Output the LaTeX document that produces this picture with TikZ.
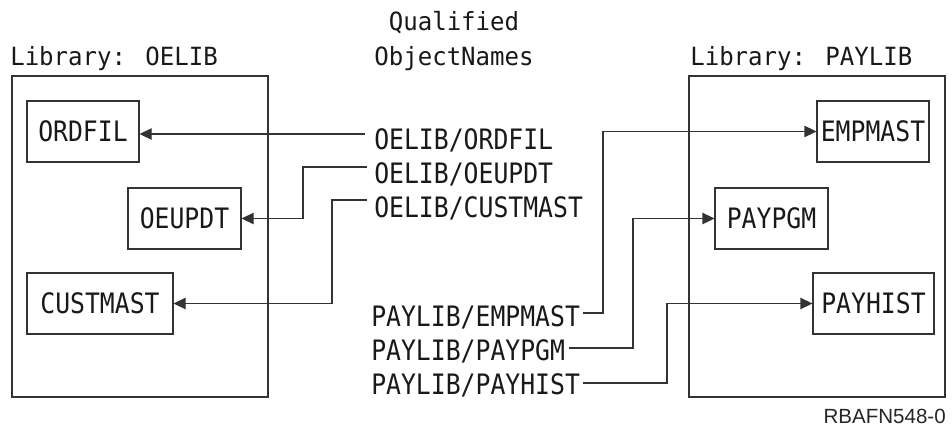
\documentclass[tikz,border=0pt]{standalone}
\usepackage{fontspec}
\usetikzlibrary{arrows.meta,calc}
\newfontfamily\bodyfont[FakeStretch=0.88]{DejaVu Sans Mono}
\newfontfamily\headfont[FakeStretch=0.96]{DejaVu Sans Mono}
\newfontfamily\reffont{Liberation Sans}
\begin{document}
\begin{tikzpicture}[x=0.75pt,y=-0.75pt,
  ln/.style={draw=black!80,line width=0.8pt},
  arr/.style={ln,-{Triangle[length=9pt,width=8.5pt]}},
  libbox/.style={ln},
  objbox/.style={ln,minimum height=45.75pt,inner sep=0pt,
    font=\bodyfont\fontsize{21.1pt}{25pt}\selectfont,text=black!90},
  qtext/.style={anchor=base west,inner sep=0pt,
    font=\bodyfont\fontsize{21.1pt}{25pt}\selectfont,text=black!90},
  htext/.style={inner sep=0pt,
    font=\headfont\fontsize{18.8pt}{22pt}\selectfont,text=black!90}
]
\useasboundingbox (0,0) rectangle (952,428);
% libraries
\draw[libbox] (12,76) rectangle (268,397);
\draw[libbox] (689,76) rectangle (945,397);
\node[htext,anchor=base west] (hleft) at (10,65) {Library: OELIB};
\node[htext,anchor=base west] (hright) at (690,65) {Library: PAYLIB};
\node[htext,anchor=base] (hq) at (454,31) {Qualified};
\node[htext,anchor=base] (hon) at (454,65) {ObjectNames};
% objects
\node[objbox,minimum width=84pt] (ordfil) at (83,131.5) {ORDFIL};
\node[objbox,minimum width=84.75pt] (oeupdt) at (184.5,218.5) {OEUPDT};
\node[objbox,minimum width=109.5pt] (custmast) at (100,303.5) {CUSTMAST};
\node[objbox,minimum width=84pt] (empmast) at (873,131.5) {EMPMAST};
\node[objbox,minimum width=84.75pt] (paypgm) at (771.5,218.5) {PAYPGM};
\node[objbox,minimum width=90.75pt] (payhist) at (873.5,303.5) {PAYHIST};
% qualified names
\node[qtext] (q1) at (374,149) {OELIB/ORDFIL};
\node[qtext] (q2) at (374,183) {OELIB/OEUPDT};
\node[qtext] (q3) at (374,217) {OELIB/CUSTMAST};
\node[qtext] (q4) at (371,326) {PAYLIB/EMPMAST};
\node[qtext] (q5) at (371,360) {PAYLIB/PAYPGM};
\node[qtext] (q6) at (371,394) {PAYLIB/PAYHIST};
\coordinate (c1) at (365,134);
\coordinate (c2) at (367,167);
\coordinate (c3) at (367,200);
\coordinate (c4) at (583,313);
\coordinate (c5) at (569,348);
\coordinate (c6) at (583,383);
% connectors
\draw[arr] (c1) -- (c1 -| ordfil.east);
\draw[arr] (c2) -- ++(-64,0) |- (oeupdt.east);
\draw[arr] (c3) -- ++(-35,0) |- (custmast.east);
\draw[arr] (c4) -- ++(20,0) |- (empmast.west);
\draw[arr] (c5) -- ++(64,0) |- (paypgm.west);
\draw[arr] (c6) -- ++(84,0) |- (payhist.west);
\node[anchor=base east,inner sep=0pt,font=\reffont\fontsize{15.4pt}{18pt}\selectfont,text=black!85] (ref) at (946,423) {RBAFN548-0};
\end{tikzpicture}
\end{document}
